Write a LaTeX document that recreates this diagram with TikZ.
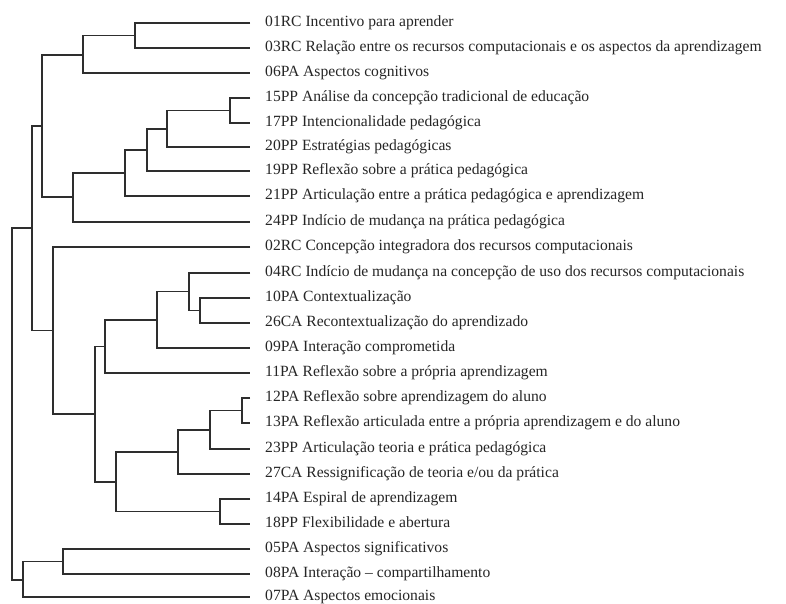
\documentclass[tikz,border=0pt]{standalone}
\usepackage{fontspec}
\setmainfont{Liberation Serif}
\definecolor{ink}{HTML}{2E2E2E}
\definecolor{txt}{HTML}{262626}
\begin{document}
\begin{tikzpicture}[x=1pt,y=-1pt,
  br/.style={draw=ink,line width=1.6pt,line join=miter},
  lbl/.style={anchor=base west,inner sep=0pt,text=txt,font=\fontsize{15.6}{16}\selectfont}]
\useasboundingbox (0,0) rectangle (786,604);
\fill[white] (0,0) rectangle (786,604);
% leaves: name / y / text
\foreach \n/\y/\t in {
  l01/23/{01RC Incentivo para aprender},
  l03/48/{03RC Relação entre os recursos computacionais e os aspectos da aprendizagem},
  l06/73/{06PA Aspectos cognitivos},
  l15/98/{15PP Análise da concepção tradicional de educação},
  l17/123/{17PP Intencionalidade pedagógica},
  l20/147/{20PP Estratégias pedagógicas},
  l19/171/{19PP Reflexão sobre a prática pedagógica},
  l21/196/{21PP Articulação entre a prática pedagógica e aprendizagem},
  l24/222/{24PP Indício de mudança na prática pedagógica},
  l02/247/{02RC Concepção integradora dos recursos computacionais},
  l04/273/{04RC Indício de mudança na concepção de uso dos recursos computacionais},
  l10/298/{10PA Contextualização},
  l26/323/{26CA Recontextualização do aprendizado},
  l09/348/{09PA Interação comprometida},
  l11/373/{11PA Reflexão sobre a própria aprendizagem},
  l12/398/{12PA Reflexão sobre aprendizagem do aluno},
  l13/423/{13PA Reflexão articulada entre a própria aprendizagem e do aluno},
  l23/449/{23PP Articulação teoria e prática pedagógica},
  l27/474/{27CA Ressignificação de teoria e/ou da prática},
  l14/499/{14PA Espiral de aprendizagem},
  l18/524/{18PP Flexibilidade e abertura},
  l05/549/{05PA Aspectos significativos},
  l08/574/{08PA Interação -- compartilhamento},
  l07/597/{07PA Aspectos emocionais}}{
  \coordinate (\n) at (250,\y);
  \node[lbl] (t\n) at (265,\y+3.5) {\t};
}
% internal merge points
\coordinate (a1) at (135,35.5);
\coordinate (a2) at (83,55);
\coordinate (b1) at (230,110.5);
\coordinate (b2) at (167,129);
\coordinate (b3) at (147,150);
\coordinate (b4) at (125,173);
\coordinate (b5) at (73,197);
\coordinate (A) at (42,126);
\coordinate (c1) at (200,310.5);
\coordinate (c2) at (189,291.5);
\coordinate (c3) at (157,320);
\coordinate (c4) at (105,346.5);
\coordinate (d1) at (242,410.5);
\coordinate (d2) at (210,430);
\coordinate (d3) at (178,452);
\coordinate (d4) at (220,511.5);
\coordinate (d5) at (116,482);
\coordinate (c5) at (95,414);
\coordinate (B) at (53,330.5);
\coordinate (AB) at (32,228);
\coordinate (e1) at (63,561.5);
\coordinate (e2) at (23,580);
\coordinate (R) at (12,404);
% connectors
\draw[br] (l01) -| (a1) |- (l03);
\draw[br] (a1) -| (a2) |- (l06);
\draw[br] (l15) -| (b1) |- (l17);
\draw[br] (b1) -| (b2) |- (l20);
\draw[br] (b2) -| (b3) |- (l19);
\draw[br] (b3) -| (b4) |- (l21);
\draw[br] (b4) -| (b5) |- (l24);
\draw[br] (a2) -| (A) |- (b5);
\draw[br] (l10) -| (c1) |- (l26);
\draw[br] (l04) -| (c2) |- (c1);
\draw[br] (c2) -| (c3) |- (l09);
\draw[br] (c3) -| (c4) |- (l11);
\draw[br] (l12) -| (d1) |- (l13);
\draw[br] (d1) -| (d2) |- (l23);
\draw[br] (d2) -| (d3) |- (l27);
\draw[br] (l14) -| (d4) |- (l18);
\draw[br] (d3) -| (d5) |- (d4);
\draw[br] (c4) -| (c5) |- (d5);
\draw[br] (l02) -| (B) |- (c5);
\draw[br] (A) -| (AB) |- (B);
\draw[br] (l05) -| (e1) |- (l08);
\draw[br] (e1) -| (e2) |- (l07);
\draw[br] (AB) -| (R) |- (e2);
\end{tikzpicture}
\end{document}
